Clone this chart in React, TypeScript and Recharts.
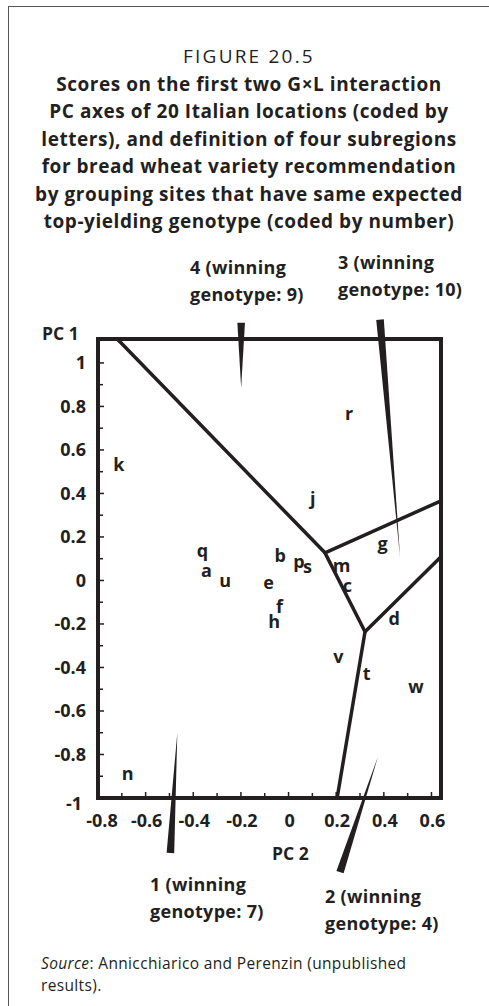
import React from 'react';
import { ScatterChart, Scatter, XAxis, YAxis, ReferenceLine, ReferenceArea } from 'recharts';

// site scores (letters = locations)
const siteCodes = ['r', 'k', 'j', 'g', 'q', 'b', 'p', 's', 'm', 'a', 'u', 'e', 'c', 'f', 'h', 'd', 'v', 't', 'w', 'n'];
const sitePC2 = [0.254, -0.713, 0.102, 0.395, -0.361, -0.035, 0.044, 0.079, 0.223, -0.345, -0.266, -0.084, 0.247, -0.038, -0.06, 0.444, 0.209, 0.328, 0.535, -0.675];
const sitePC1 = [0.759, 0.524, 0.371, 0.164, 0.133, 0.11, 0.081, 0.057, 0.06, 0.041, -0.009, -0.015, -0.031, -0.127, -0.196, -0.181, -0.355, -0.434, -0.493, -0.894];

// subregion boundaries, [start, end]
const boundaryPC2 = [[-0.719, 0.153], [0.153, 0.321], [0.153, 0.64], [0.321, 0.64], [0.321, 0.204]];
const boundaryPC1 = [[1.11, 0.127], [0.127, -0.236], [0.127, 0.366], [-0.236, 0.109], [-0.236, -1]];

// pointers from subregion labels into the plot
const pointerBasePC2 = [-0.199, 0.384, -0.496, 0.216];
const pointerBasePC1 = [1.185, 1.199, -1.253, -1.341];
const pointerTipPC2 = [-0.199, 0.468, -0.467, 0.375];
const pointerTipPC1 = [0.886, 0.109, -0.701, -0.811];

const subregionLabels = [
  ['4 (winning', 'genotype: 9)'],
  ['3 (winning', 'genotype: 10)'],
  ['1 (winning', 'genotype: 7)'],
  ['2 (winning', 'genotype: 4)'],
];

const xTicks = [-0.8, -0.7, -0.6, -0.5, -0.4, -0.3, -0.2, -0.1, 0, 0.1, 0.2, 0.3, 0.4, 0.5, 0.6];
const yTicks = [-1, -0.9, -0.8, -0.7, -0.6, -0.5, -0.4, -0.3, -0.2, -0.1, 0, 0.1, 0.2, 0.3, 0.4, 0.5, 0.6, 0.7, 0.8, 0.9, 1];
const xDomain = [-0.8, 0.64];
const yDomain = [-1, 1.11];

const titleLines = [
  'Scores on the first two G×L interaction',
  'PC axes of 20 Italian locations (coded by',
  'letters), and definition of four subregions',
  'for bread wheat variety recommendation',
  'by grouping sites that have same expected',
  'top-yielding genotype (coded by number)',
];

const INK = '#231f20';
const FONT = '"Open Sans", "Noto Sans", sans-serif';

const X_MARGIN = 16;
const Y_MARGIN = 12;

const isMajor = (v: number) => Math.round(v * 10) % 2 === 0;

const XTick = (props: any) => {
  const { x, y, payload } = props;
  const v = payload.value;
  const axisY = y - X_MARGIN;
  const len = isMajor(v) ? 6 : 5;
  return (
    <g>
      <line x1={x} x2={x} y1={axisY} y2={axisY - len} stroke={INK} strokeWidth={1.5} />
      {isMajor(v) && (
        <text x={x + (v === -0.8 ? 4 : 1)} y={y} dy="0.71em" textAnchor="middle" fill={INK}
          fontFamily={FONT} fontWeight={700} fontSize={18}>
          {String(v)}
        </text>
      )}
    </g>
  );
};

const YTick = (props: any) => {
  const { x, y, payload } = props;
  const v = payload.value;
  const axisX = x + Y_MARGIN;
  const len = isMajor(v) ? 6 : 5;
  return (
    <g>
      <line x1={axisX} x2={axisX + len} y1={y} y2={y} stroke={INK} strokeWidth={1.5} />
      {isMajor(v) && (
        <text x={v === -1 ? x - 4 : x} y={v === -1 ? y + 6 : y} dy="0.36em" textAnchor="end" fill={INK}
          fontFamily={FONT} fontWeight={700} fontSize={18}>
          {String(v)}
        </text>
      )}
    </g>
  );
};

const Pointer = (props: any) => {
  const { x1, y1, x2, y2 } = props;
  const dx = x2 - x1;
  const dy = y2 - y1;
  const len = Math.hypot(dx, dy) || 1;
  const half = 3.8;
  const nx = (-dy / len) * half;
  const ny = (dx / len) * half;
  return (
    <polygon
      points={`${x1 + nx},${y1 + ny} ${x1 - nx},${y1 - ny} ${x2},${y2}`}
      fill={INK}
    />
  );
};

const SiteLabel = (props: any) => {
  const { cx, cy, payload } = props;
  return (
    <text x={cx} y={cy} dy={5} textAnchor="middle" fill={INK} fontFamily={FONT} fontWeight={700} fontSize={18}>
      {payload.code}
    </text>
  );
};

const labelBoxes = [
  { left: 190, top: 254 },
  { left: 338, top: 249 },
  { left: 150, top: 871 },
  { left: 325, top: 883 },
];

const App: React.FC = () => {
  const sites = siteCodes.map((code, i) => ({ code, pc2: sitePC2[i], pc1: sitePC1[i] }));

  return (
    <div style={{ position: 'absolute', left: 0, top: 0, width: 489, height: 1006, overflow: 'hidden', background: '#fff', fontFamily: FONT, color: INK }}>
      <div style={{ position: 'absolute', left: 8, top: 6, width: 600, height: 1100, borderLeft: '1.5px solid #555', borderTop: '1.5px solid #555' }} />

      <div style={{ position: 'absolute', left: 9, top: 43, width: 480, textAlign: 'center', lineHeight: '27.5px' }}>
        <div style={{ fontSize: 19, letterSpacing: 2.2 }}>FIGURE 20.5</div>
        {titleLines.map((t) => (
          <div key={t} style={{ fontSize: 19, fontWeight: 700, letterSpacing: 0.55, whiteSpace: 'nowrap' }}>{t}</div>
        ))}
      </div>

      <div style={{ position: 'absolute', left: 0, top: 0 }}>
        <ScatterChart width={489} height={1006} margin={{ top: 339, right: 48, bottom: 168, left: 38 }}>
          <XAxis
            type="number"
            dataKey="pc2"
            domain={xDomain}
            allowDataOverflow
            ticks={xTicks}
            interval={0}
            height={40}
            axisLine={false}
            tickLine={false}
            tickSize={0}
            tickMargin={X_MARGIN}
            tick={<XTick />}
          />
          <YAxis
            type="number"
            dataKey="pc1"
            domain={yDomain}
            allowDataOverflow
            ticks={yTicks}
            interval={0}
            width={60}
            axisLine={false}
            tickLine={false}
            tickSize={0}
            tickMargin={Y_MARGIN}
            tick={<YTick />}
          />
          <ReferenceArea
            x1={xDomain[0]}
            x2={xDomain[1]}
            y1={yDomain[0]}
            y2={yDomain[1]}
            fill="none"
            fillOpacity={0}
            stroke={INK}
            strokeWidth={4}
            ifOverflow="visible"
          />
          {boundaryPC2.map((xs, i) => (
            <ReferenceLine
              key={`b${i}`}
              segment={[{ x: xs[0], y: boundaryPC1[i][0] }, { x: xs[1], y: boundaryPC1[i][1] }]}
              stroke={INK}
              strokeWidth={3.5}
              strokeLinecap="round"
              ifOverflow="visible"
            />
          ))}
          {pointerBasePC2.map((bx, i) => (
            <ReferenceLine
              key={`p${i}`}
              segment={[{ x: bx, y: pointerBasePC1[i] }, { x: pointerTipPC2[i], y: pointerTipPC1[i] }]}
              ifOverflow="visible"
              shape={(p: any) => <Pointer {...p} />}
            />
          ))}
          <Scatter data={sites} isAnimationActive={false} shape={(p: any) => <SiteLabel {...p} />} />
        </ScatterChart>
      </div>

      {subregionLabels.map((lines, i) => (
        <div key={i} style={{ position: 'absolute', left: labelBoxes[i].left, top: labelBoxes[i].top, fontSize: 18, fontWeight: 700, letterSpacing: 0.3, lineHeight: '27px', whiteSpace: 'nowrap' }}>
          {lines.map((l) => <div key={l}>{l}</div>)}
        </div>
      ))}

      <div style={{ position: 'absolute', left: 42, top: 320, fontSize: 17.5, fontWeight: 700, lineHeight: '26px' }}>PC 1</div>
      <div style={{ position: 'absolute', left: 272, top: 840, fontSize: 17.5, fontWeight: 700, lineHeight: '26px' }}>PC 2</div>

      <div style={{ position: 'absolute', left: 41, top: 952, fontSize: 15.5, letterSpacing: 0.35, lineHeight: '22px', whiteSpace: 'nowrap' }}>
        <div><i>Source</i>: Annicchiarico and Perenzin (unpublished</div>
        <div>results).</div>
      </div>
    </div>
  );
};

export default App;
